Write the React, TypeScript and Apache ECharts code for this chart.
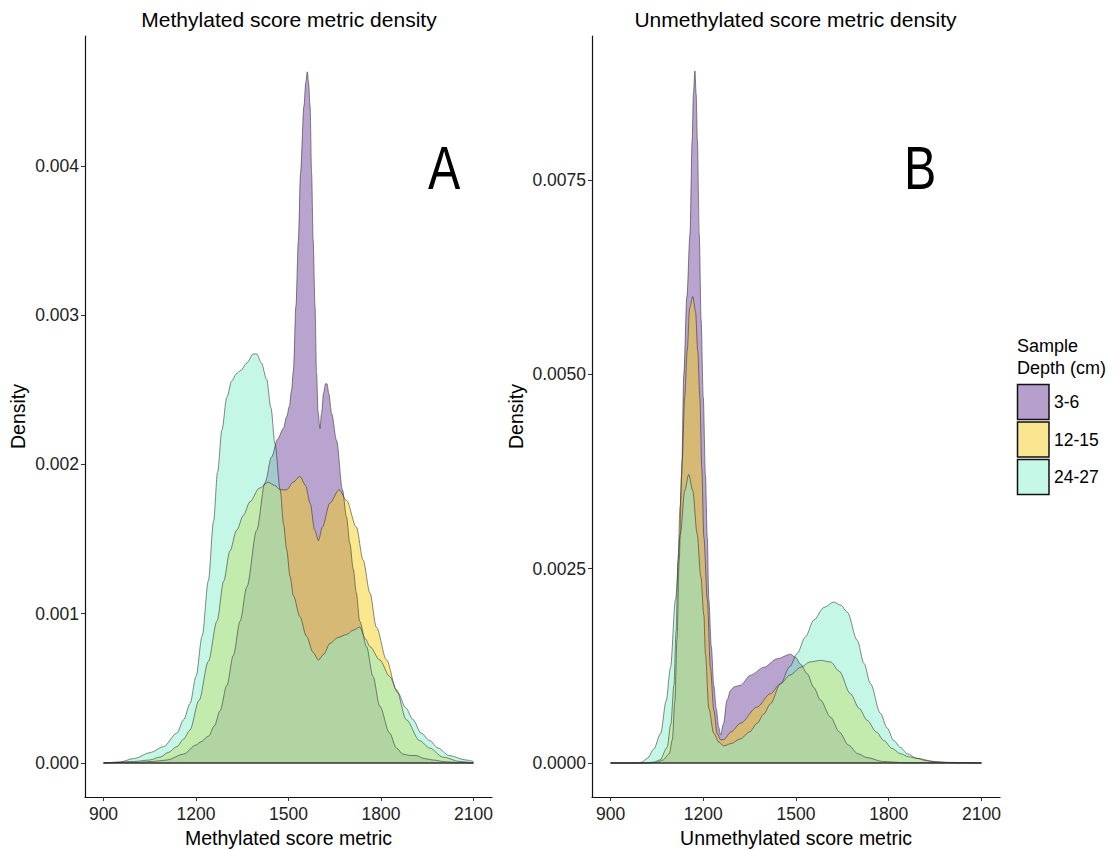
import React, { useEffect, useRef } from "react";
import * as echarts from "echarts";

// ---- categories / ticks ----
const depthGroups = ["3-6", "12-15", "24-27"];
const xTicks = [900, 1200, 1500, 1800, 2100];
const yTicksA = [0, 0.001, 0.002, 0.003, 0.004];
const yTicksB = [0, 0.0025, 0.005, 0.0075];

// ---- Panel A: methylated score metric density ([score, density]) ----
const methPurple: number[][] = [
  [900, 0], [1000, 0.000004], [1060, 0.00001], [1106, 0.00002], [1160, 0.00006], [1200, 0.00012],
  [1214, 0.00014], [1241, 0.00018], [1260, 0.00025], [1278, 0.00035], [1300, 0.00052], [1321, 0.00072],
  [1343, 0.00095], [1365, 0.00118], [1397, 0.00156], [1424, 0.00188], [1445, 0.00205], [1465, 0.00217],
  [1483, 0.00224], [1494, 0.00232], [1503, 0.00239], [1510, 0.0025], [1516, 0.00263], [1524, 0.00306],
  [1532, 0.0035], [1539, 0.00395], [1550, 0.0044], [1556, 0.00456], [1561, 0.00463], [1565, 0.00456],
  [1570, 0.0044], [1575, 0.00395], [1580, 0.0035], [1586, 0.00306], [1591, 0.00261], [1596, 0.00235],
  [1602, 0.00224], [1607, 0.00234], [1614, 0.00248], [1620, 0.00254], [1625, 0.00254], [1631, 0.00247],
  [1640, 0.00234], [1656, 0.00216], [1675, 0.00183], [1688, 0.00165], [1699, 0.00147], [1710, 0.0013],
  [1720, 0.00114], [1731, 0.00095], [1753, 0.00078], [1774, 0.00058], [1796, 0.00038], [1828, 0.0002],
  [1850, 0.0001], [1871, 0.00006], [1893, 0.00005], [1914, 0.00005], [1940, 0.00003], [1967, 0.00002],
  [2010, 0.000008], [2060, 0.000002], [2100, 0],
];
const methYellow: number[][] = [
  [900, 0], [1000, 0.00001], [1050, 0.00002], [1084, 0.00004], [1110, 0.00007], [1138, 0.00011],
  [1160, 0.00016], [1180, 0.00022], [1210, 0.00042], [1240, 0.00068], [1268, 0.00095], [1290, 0.00122],
  [1310, 0.00142], [1332, 0.00156], [1354, 0.00166], [1375, 0.00175], [1405, 0.00184], [1434, 0.00188],
  [1455, 0.00186], [1473, 0.00183], [1494, 0.00183], [1515, 0.00188], [1537, 0.00192], [1555, 0.00186],
  [1570, 0.00174], [1585, 0.00156], [1597, 0.00149], [1610, 0.00158], [1634, 0.00174], [1664, 0.00183],
  [1688, 0.00176], [1720, 0.00158], [1742, 0.00136], [1764, 0.00114], [1785, 0.00091], [1818, 0.00069],
  [1850, 0.00049], [1882, 0.00029], [1925, 0.00015], [1958, 0.0001], [2000, 0.00004], [2055, 0.00001],
  [2100, 0],
];
const methTeal: number[][] = [
  [900, 0], [950, 0.000005], [1000, 0.00003], [1052, 0.00007], [1095, 0.00011], [1138, 0.0002],
  [1160, 0.00029], [1181, 0.0004], [1200, 0.00058], [1220, 0.00085], [1240, 0.00122], [1257, 0.00162],
  [1270, 0.00195], [1284, 0.00223], [1300, 0.00245], [1316, 0.00256], [1332, 0.00261], [1345, 0.00263],
  [1365, 0.00268], [1385, 0.00274], [1397, 0.00274], [1412, 0.00268], [1429, 0.00257], [1443, 0.00238],
  [1456, 0.00214], [1473, 0.00183], [1484, 0.0016], [1494, 0.00143], [1505, 0.00125], [1516, 0.00112],
  [1537, 0.00098], [1558, 0.00085], [1580, 0.00074], [1597, 0.00069], [1615, 0.00073], [1634, 0.0008],
  [1660, 0.00084], [1688, 0.00086], [1710, 0.00089], [1731, 0.00091], [1750, 0.00083], [1764, 0.00078],
  [1796, 0.00069], [1828, 0.00058], [1855, 0.00047], [1880, 0.00037], [1904, 0.00029], [1930, 0.0002],
  [1958, 0.00015], [1985, 0.0001], [2020, 0.00005], [2076, 0.00002], [2100, 0.00001],
];

// ---- Panel B: unmethylated score metric density ([score, density]) ----
const unmethPurple: number[][] = [
  [900, 0], [1000, 0], [1050, 0.00001], [1070, 0.00004], [1090, 0.00012], [1100, 0.0003],
  [1108, 0.0008], [1115, 0.0016], [1122, 0.0026], [1130, 0.0037], [1137, 0.005], [1147, 0.006],
  [1157, 0.0068], [1164, 0.008], [1168, 0.0086], [1173, 0.0089], [1177, 0.0086], [1181, 0.008],
  [1187, 0.0068], [1193, 0.0057], [1200, 0.0047], [1207, 0.0037], [1213, 0.0029], [1218, 0.0021],
  [1226, 0.0015], [1234, 0.001], [1242, 0.0007], [1250, 0.00046], [1256, 0.00036], [1265, 0.0005],
  [1277, 0.00081], [1288, 0.00093], [1300, 0.00098], [1320, 0.001], [1353, 0.00113], [1396, 0.00123],
  [1439, 0.00134], [1482, 0.0014], [1498, 0.00136], [1515, 0.00127], [1536, 0.00115], [1558, 0.00097],
  [1579, 0.00081], [1612, 0.00059], [1640, 0.0004], [1670, 0.00023], [1700, 0.00012], [1730, 0.00007],
  [1780, 0.00002], [1850, 0.000005], [2100, 0],
];
const unmethYellow: number[][] = [
  [900, 0], [1000, 0], [1040, 0.00001], [1060, 0.00004], [1083, 0.0002], [1095, 0.0005],
  [1105, 0.001], [1112, 0.0017], [1118, 0.0026], [1125, 0.0033], [1132, 0.0039], [1140, 0.0047],
  [1148, 0.0053], [1156, 0.00585], [1166, 0.006], [1175, 0.0058], [1182, 0.0053], [1189, 0.0047],
  [1195, 0.0038], [1202, 0.0029], [1213, 0.0021], [1223, 0.00123], [1234, 0.00068], [1245, 0.00038],
  [1256, 0.0003], [1266, 0.0003], [1290, 0.0004], [1320, 0.00051], [1374, 0.00072], [1417, 0.00089],
  [1450, 0.00102], [1480, 0.00113], [1515, 0.00123], [1545, 0.0013], [1579, 0.00132], [1612, 0.0013],
  [1640, 0.00118], [1676, 0.00089], [1705, 0.0007], [1730, 0.00055], [1760, 0.0004], [1784, 0.00029],
  [1810, 0.00019], [1838, 0.00012], [1865, 0.00008], [1892, 0.00006], [1946, 0.00002], [2000, 0.000005],
  [2100, 0],
];
const unmethTeal: number[][] = [
  [900, 0], [980, 0], [1000, 0.00001], [1019, 0.00006], [1040, 0.00018], [1062, 0.00038],
  [1080, 0.0008], [1094, 0.00123], [1110, 0.0021], [1126, 0.00295], [1140, 0.0035], [1153, 0.00371],
  [1166, 0.0035], [1180, 0.00295], [1192, 0.0024], [1202, 0.0019], [1207, 0.0014], [1218, 0.0007],
  [1234, 0.00038], [1250, 0.00027], [1266, 0.00022], [1290, 0.00025], [1320, 0.00031], [1350, 0.0004],
  [1374, 0.00051], [1396, 0.00063], [1417, 0.00076], [1450, 0.00102], [1480, 0.00124], [1504, 0.00141],
  [1530, 0.00162], [1558, 0.00184], [1590, 0.002], [1622, 0.00207], [1645, 0.00203], [1666, 0.00194],
  [1698, 0.00158], [1720, 0.00128], [1741, 0.00102], [1773, 0.00064], [1795, 0.00045], [1816, 0.00029],
  [1838, 0.0002], [1860, 0.00012], [1892, 0.00006], [1920, 0.00003], [1960, 0.00001], [2100, 0],
];

const FONT = "'Liberation Sans', Arial, Helvetica, sans-serif";
const fills = ["rgba(116,72,160,0.5)", "rgba(245,208,30,0.5)", "rgba(140,240,205,0.5)"];
const legendFills = ["#b69fcd", "#f9e48f", "#c5f7e6"];

export default function App() {
  const ref = useRef<HTMLDivElement>(null);

  useEffect(() => {
    if (!ref.current) return;
    const chart = echarts.init(ref.current, null, { renderer: "svg" });

    const mkArea = (name: string, data: number[][], color: string, idx: number) => ({
      name,
      type: "line",
      xAxisIndex: idx,
      yAxisIndex: idx,
      data,
      showSymbol: false,
      symbol: "none",
      smooth: 0.3,
      smoothMonotone: "x",
      lineStyle: { color: "rgba(40,40,40,0.55)", width: 1 },
      areaStyle: { color, opacity: 1, origin: 0 },
      z: 2,
    });
    const baseline = (idx: number) => ({
      type: "line",
      xAxisIndex: idx,
      yAxisIndex: idx,
      data: [[xTicks[0], 0], [xTicks[xTicks.length - 1], 0]],
      symbol: "none",
      lineStyle: { color: "#333", width: 1.6 },
      z: 3,
      silent: true,
    });

    const xAxis = (idx: number, name: string) => ({
      gridIndex: idx,
      type: "value",
      min: 840,
      max: 2160,
      name,
      nameLocation: "middle",
      nameGap: 25,
      nameTextStyle: { fontSize: 19.5, color: "#000", fontFamily: FONT },
      axisLine: { show: true, onZero: false, lineStyle: { color: "#111", width: 1.2 } },
      axisTick: { show: true, length: 4, customValues: xTicks, lineStyle: { color: "#333", width: 1 } },
      axisLabel: {
        customValues: xTicks,
        fontSize: 17.5,
        color: "#222",
        margin: 8,
        fontFamily: FONT,
        formatter: (v: number) => String(v),
      },
      splitLine: { show: false },
    });
    const yAxis = (idx: number, min: number, max: number, ticks: number[], dec: number, gap: number) => ({
      gridIndex: idx,
      type: "value",
      min,
      max,
      name: "Density",
      nameLocation: "middle",
      nameGap: gap,
      nameTextStyle: { fontSize: 19.5, color: "#000", fontFamily: FONT },
      axisLine: { show: true, onZero: false, lineStyle: { color: "#111", width: 1.2 } },
      axisTick: { show: true, length: 4, customValues: ticks, lineStyle: { color: "#333", width: 1 } },
      axisLabel: {
        customValues: ticks,
        fontSize: 17.5,
        color: "#222",
        margin: 6,
        fontFamily: FONT,
        formatter: (v: number) => v.toFixed(dec),
      },
      splitLine: { show: false },
    });

    const legendItems: any[] = [
      { type: "text", x: 1017, y: 346, style: { text: "Sample", fontSize: 18, fontFamily: FONT, fill: "#000", verticalAlign: "middle" } },
      { type: "text", x: 1017, y: 368, style: { text: "Depth (cm)", fontSize: 18, fontFamily: FONT, fill: "#000", verticalAlign: "middle" } },
    ];
    const keyTops = [384.5, 422, 459.5];
    depthGroups.forEach((g, i) => {
      legendItems.push({
        type: "rect",
        shape: { x: 1017.5, y: keyTops[i], width: 31.5, height: 35 },
        style: { fill: legendFills[i], stroke: "#111", lineWidth: 1.5 },
      });
      legendItems.push({
        type: "text",
        x: 1054,
        y: keyTops[i] + 17.5,
        style: { text: g, fontSize: 17.5, fontFamily: FONT, fill: "#000", verticalAlign: "middle" },
      });
    });

    chart.setOption({
      animation: false,
      backgroundColor: "#fff",
      textStyle: { fontFamily: FONT },
      grid: [
        { left: 85, top: 36, width: 407, height: 761, containLabel: false, outerBoundsMode: "none" },
        { left: 592, top: 36, width: 408, height: 761, containLabel: false, outerBoundsMode: "none" },
      ],
      xAxis: [xAxis(0, "Methylated score metric"), xAxis(1, "Unmethylated score metric")],
      yAxis: [
        yAxis(0, -0.000228, 0.00487, yTicksA, 3, 57),
        yAxis(1, -0.000437, 0.00935, yTicksB, 4, 66),
      ],
      series: [
        mkArea(depthGroups[0], methPurple, fills[0], 0),
        mkArea(depthGroups[1], methYellow, fills[1], 0),
        mkArea(depthGroups[2], methTeal, fills[2], 0),
        baseline(0),
        mkArea(depthGroups[0], unmethPurple, fills[0], 1),
        mkArea(depthGroups[1], unmethYellow, fills[1], 1),
        mkArea(depthGroups[2], unmethTeal, fills[2], 1),
        baseline(1),
      ],
      graphic: [
        { type: "text", x: 289, y: 19, style: { text: "Methylated score metric density", fontSize: 21, fontFamily: FONT, fill: "#000", align: "center", verticalAlign: "middle" } },
        { type: "text", x: 795.5, y: 19, style: { text: "Unmethylated score metric density", fontSize: 21, fontFamily: FONT, fill: "#000", align: "center", verticalAlign: "middle" } },
        { type: "text", x: 444, y: 168, scaleX: 0.78, style: { text: "A", fontSize: 62, fontFamily: FONT, fill: "#000", align: "center", verticalAlign: "middle" } },
        { type: "text", x: 920, y: 168, scaleX: 0.78, style: { text: "B", fontSize: 62, fontFamily: FONT, fill: "#000", align: "center", verticalAlign: "middle" } },
        ...legendItems,
      ],
    });

    return () => chart.dispose();
  }, []);

  return <div ref={ref} style={{ position: "absolute", left: 0, top: 0, width: 1114, height: 850 }} />;
}
